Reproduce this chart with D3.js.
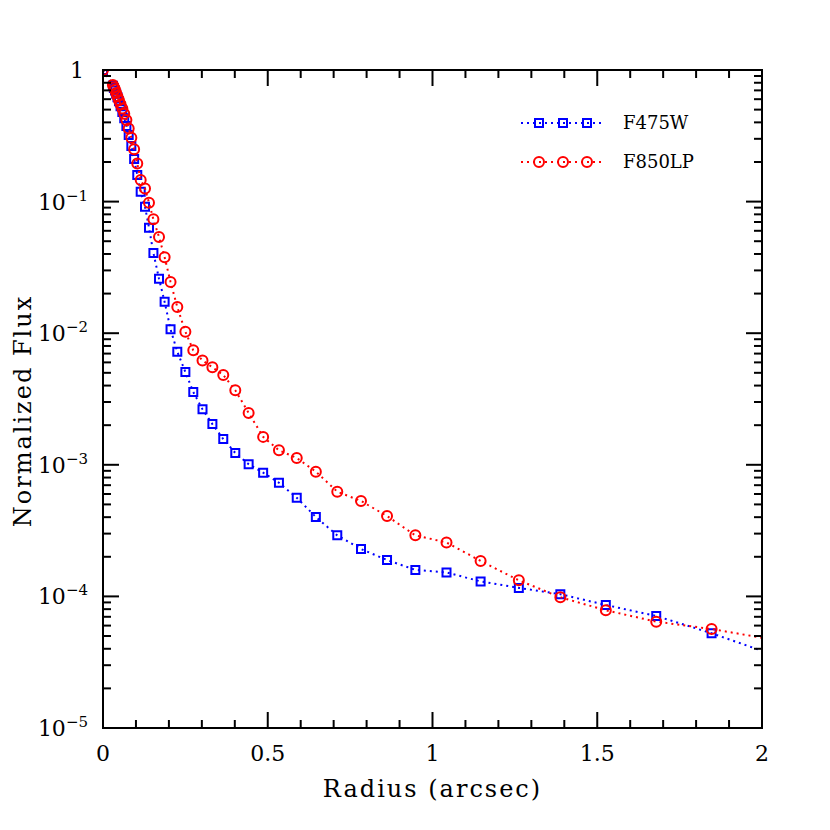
<!DOCTYPE html>
<html>
<head>
<meta charset="utf-8">
<script src="https://cdn.jsdelivr.net/npm/d3@7"></script>
<style>
body { margin: 0; background: #fff; }
text { font-family: "DejaVu Serif", serif; fill: #000; }
</style>
</head>
<body>
<div id="chart"></div>
<script>
// radius in arcsec
var radius = [0, 0.030, 0.033, 0.0364, 0.040, 0.044, 0.0485, 0.0533, 0.0587, 0.0645,
  0.071, 0.078, 0.086, 0.0945, 0.104, 0.1144, 0.1275, 0.1396, 0.153, 0.170,
  0.187, 0.205, 0.2255, 0.250, 0.274, 0.302, 0.332, 0.365, 0.4015, 0.442,
  0.486, 0.534, 0.588, 0.646, 0.711, 0.783, 0.862, 0.948, 1.0425, 1.146,
  1.262, 1.388, 1.526, 1.679, 1.847, 2.03];

var f475w = [1, 0.76, 0.73, 0.70, 0.66, 0.62, 0.58, 0.53, 0.48, 0.43,
  0.375, 0.32, 0.265, 0.211, 0.159, 0.119, 0.0915, 0.0633, 0.0407, 0.0259,
  0.0173, 0.0107, 0.00723, 0.00507, 0.00357, 0.00264, 0.00204, 0.00157, 0.00123, 0.00101,
  0.000871, 0.000731, 0.000562, 0.000401, 0.000291, 0.000229, 0.000189, 0.000159, 0.000152, 0.000130,
  0.000116, 0.000104, 0.0000860, 0.0000710, 0.0000525, 0.0000363];

var f850lp = [1, 0.77, 0.74, 0.71, 0.67, 0.63, 0.59, 0.55, 0.51, 0.465,
  0.417, 0.36, 0.306, 0.25, 0.195, 0.146, 0.126, 0.098, 0.0733, 0.0538,
  0.0378, 0.0245, 0.0158, 0.01026, 0.00741, 0.00621, 0.00551, 0.00481, 0.00368, 0.00248,
  0.00163, 0.00129, 0.001126, 0.000887, 0.000625, 0.000531, 0.000408, 0.000291, 0.000257, 0.000186,
  0.0001325, 0.0000985, 0.0000784, 0.0000643, 0.0000565, 0.0000471];

var seriesNames = ["F475W", "F850LP"];
var xTicks = [0, 0.5, 1, 1.5, 2];
var xTickLabels = ["0", "0.5", "1", "1.5", "2"];
var yExponents = [0, -1, -2, -3, -4, -5];

var width = 830, height = 830;
var pL = 103, pR = 762, pT = 70, pB = 728;

var svg = d3.select("#chart").append("svg")
  .attr("width", width)
  .attr("height", height);

var x = d3.scaleLinear().domain([0, 2]).range([pL, pR]);
var y = d3.scaleLog().domain([1e-5, 1]).range([pB, pT]);

svg.append("clipPath").attr("id", "plotclip")
  .append("rect")
  .attr("x", pL).attr("y", pT)
  .attr("width", pR - pL).attr("height", pB - pT);

var plot = svg.append("g").attr("clip-path", "url(#plotclip)");

var squarePath = "M-4,-4H4V4H-4Z";
var circlePath = "M5,0A5,5 0 1,1 -5,0A5,5 0 1,1 5,0Z";

function drawSeries(vals, color, shape) {
  var pts = radius.map(function(r, i) { return [r, vals[i]]; });
  var line = d3.line()
    .x(function(d) { return x(d[0]); })
    .y(function(d) { return y(d[1]); });
  plot.append("path")
    .datum(pts)
    .attr("d", line)
    .attr("fill", "none")
    .attr("stroke", color)
    .attr("stroke-width", 2)
    .attr("stroke-dasharray", "2,4");
  plot.selectAll(null).data(pts).enter()
    .append("path")
    .attr("transform", function(d) { return "translate(" + x(d[0]) + "," + y(d[1]) + ")"; })
    .attr("d", shape)
    .attr("fill", "none")
    .attr("stroke", color)
    .attr("stroke-width", 2);
}

drawSeries(f475w, "#0000ff", squarePath);
drawSeries(f850lp, "#ff0000", circlePath);

// ticks on all four sides, pointing inward
var ticks = svg.append("g").attr("stroke", "#000").attr("stroke-width", 2);
d3.range(0, 21).forEach(function(k) {
  var v = k / 10;
  var len = (k % 5 === 0) ? 16 : 8;
  ticks.append("line").attr("x1", x(v)).attr("x2", x(v)).attr("y1", pB).attr("y2", pB - len);
  ticks.append("line").attr("x1", x(v)).attr("x2", x(v)).attr("y1", pT).attr("y2", pT + len);
});
yExponents.forEach(function(e) {
  var base = Math.pow(10, e);
  ticks.append("line").attr("x1", pL).attr("x2", pL + 16).attr("y1", y(base)).attr("y2", y(base));
  ticks.append("line").attr("x1", pR).attr("x2", pR - 16).attr("y1", y(base)).attr("y2", y(base));
  if (e > -5) {
    for (var m = 2; m <= 9; m++) {
      var v = base * m / 10;
      ticks.append("line").attr("x1", pL).attr("x2", pL + 8).attr("y1", y(v)).attr("y2", y(v));
      ticks.append("line").attr("x1", pR).attr("x2", pR - 8).attr("y1", y(v)).attr("y2", y(v));
    }
  }
});

// frame
svg.append("rect")
  .attr("x", pL).attr("y", pT)
  .attr("width", pR - pL).attr("height", pB - pT)
  .attr("fill", "none")
  .attr("stroke", "#000")
  .attr("stroke-width", 2);

// x tick labels
svg.selectAll(".xlab").data(xTicks).enter()
  .append("text")
  .attr("class", "xlab")
  .attr("x", function(d) { return x(d); })
  .attr("y", 761)
  .attr("text-anchor", "middle")
  .attr("font-size", 22)
  .text(function(d, i) { return xTickLabels[i]; });

// y tick labels
yExponents.forEach(function(e) {
  var t = svg.append("text")
    .attr("x", e === 0 ? 84 : 88)
    .attr("y", y(Math.pow(10, e)) + 8)
    .attr("text-anchor", "end")
    .attr("font-size", 22);
  if (e === 0) {
    t.text("1");
  } else {
    t.append("tspan").text("10");
    t.append("tspan").attr("font-size", 15).attr("dy", -9).text("\u2212" + (-e));
  }
});

// axis titles
svg.append("text")
  .attr("x", (pL + pR) / 2)
  .attr("y", 797)
  .attr("text-anchor", "middle")
  .attr("font-size", 24)
  .attr("letter-spacing", 2)
  .text("Radius (arcsec)");

svg.append("text")
  .attr("transform", "translate(31,411)rotate(-90)")
  .attr("text-anchor", "middle")
  .attr("font-size", 24)
  .attr("letter-spacing", 2)
  .text("Normalized Flux");

// legend
var legend = svg.append("g");
[["#0000ff", squarePath, 123], ["#ff0000", circlePath, 162]].forEach(function(s, i) {
  legend.append("line")
    .attr("x1", 521).attr("x2", 604)
    .attr("y1", s[2]).attr("y2", s[2])
    .attr("stroke", s[0])
    .attr("stroke-width", 2)
    .attr("stroke-dasharray", "2,4");
  [539, 563, 587].forEach(function(mx) {
    legend.append("path")
      .attr("transform", "translate(" + mx + "," + s[2] + ")")
      .attr("d", s[1])
      .attr("fill", "none")
      .attr("stroke", s[0])
      .attr("stroke-width", 2);
  });
  legend.append("text")
    .attr("x", 623)
    .attr("y", s[2] + 6)
    .attr("font-size", 18)
    .text(seriesNames[i]);
});
</script>
</body>
</html>
